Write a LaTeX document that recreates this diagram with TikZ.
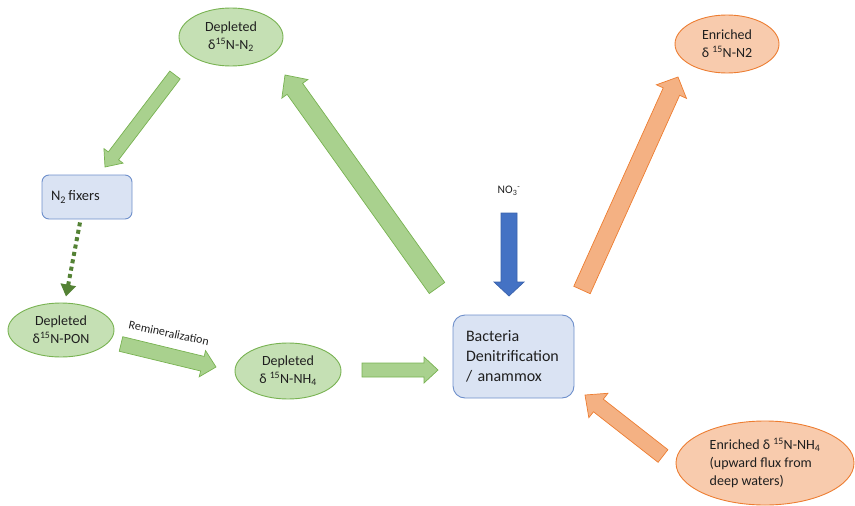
\documentclass[tikz,border=0pt]{standalone}
\usepackage{fontspec}
\setmainfont{Carlito}
\usetikzlibrary{arrows.meta,calc,shapes.geometric}
\definecolor{ncink}{HTML}{1F1F1F}
\definecolor{ncgreen}{HTML}{A9D18E}
\definecolor{ncgreenline}{HTML}{78B251}
\definecolor{ncgreenpale}{HTML}{C5E0B4}
\definecolor{ncgreendark}{HTML}{548235}
\definecolor{ncorange}{HTML}{F4B183}
\definecolor{ncorangeline}{HTML}{ED7D31}
\definecolor{ncorangepale}{HTML}{F8CBAD}
\definecolor{ncblue}{HTML}{4472C4}
\definecolor{ncblueline}{HTML}{3A62AC}
\definecolor{ncbluepale}{HTML}{DAE3F3}
\definecolor{ncboxline}{HTML}{6E8FCB}
\tikzset{
  nc text/.style={font=\fontsize{14}{18}\selectfont, text=ncink},
  nc small/.style={font=\fontsize{11.5}{13}\selectfont, text=ncink},
  nc green/.style={ellipse, draw=ncgreenline, fill=ncgreenpale, line width=0.9pt,
    inner sep=0pt, align=center, nc text},
  nc orange/.style={ellipse, draw=ncorangeline, fill=ncorangepale, line width=0.9pt,
    inner sep=0pt, align=center, nc text},
  nc box/.style={draw=ncboxline, fill=ncbluepale, line width=0.9pt, rounded corners=7pt,
    align=left, inner ysep=0pt, nc text},
  nc green arrow/.style={draw=ncgreenline, fill=ncgreen, line width=0.7pt},
  nc orange arrow/.style={draw=ncorangeline, fill=ncorange, line width=0.7pt},
  nc blue arrow/.style={draw=ncblueline, fill=ncblue, line width=0.7pt},
  nc dotted/.style={draw=ncgreendark, line width=4pt, dash pattern=on 4pt off 3.5pt,
    -{Triangle[length=12pt,width=15pt]}}
}
% block arrow: style, tail, tip, half shaft, half head, head length
\newcommand{\blockarrow}[6]{%
  \coordinate (ba h) at ($(#3)!#6!(#2)$);
  \draw[#1] ($(#2)!#4!90:(#3)$) -- ($(ba h)!#4!-90:(#2)$) -- ($(ba h)!#5!-90:(#2)$) -- (#3)
    -- ($(ba h)!#5!90:(#2)$) -- ($(ba h)!#4!90:(#2)$) -- ($(#2)!#4!-90:(#3)$) -- cycle;
}

\begin{document}
\begin{tikzpicture}[x=1pt, y=-1pt]
  \useasboundingbox (0,0) rectangle (855,506);
  % states
  \node[nc green, minimum width=104pt, minimum height=58pt] (topn2) at (231,37)
    {Depleted\\ δ\textsuperscript{15}N-N\textsubscript{2}};
  \node[nc orange, minimum width=104pt, minimum height=58pt] (enrn2) at (727,44)
    {Enriched\\ δ \textsuperscript{15}N-N2};
  \node[nc green, minimum width=106pt, minimum height=54pt] (pon) at (61,330)
    {Depleted\\ δ\textsuperscript{15}N-PON};
  \node[nc green, minimum width=106pt, minimum height=56pt] (nh4) at (288,371)
    {Depleted\\ δ \textsuperscript{15}N-NH\textsubscript{4}};
  \node[nc orange, minimum width=178pt, minimum height=84pt, align=left] (enrnh4) at (765,463)
    {Enriched δ \textsuperscript{15}N-NH\textsubscript{4}\\ (upward flux from\\ deep waters)};
  % organisms
  \node[nc box, text width=72pt, inner xsep=9pt, minimum height=44pt,
    font=\fontsize{14.5}{18}\selectfont] (fixers) at (87,197)
    {N\textsubscript{2}\,fixers};
  \node[nc box, text width=95pt, inner xsep=13pt, minimum height=83pt, rounded corners=12pt,
    font=\fontsize{16}{20}\selectfont] (bact) at (513.5,356.5)
    {Bacteria\\ Denitrification\\ / anammox};
  \node[nc small] (no3) at (509,191) {NO\textsubscript{3}\textsuperscript{-}};
  \node[nc small, font=\fontsize{12}{14}\selectfont, rotate=-12] (remin) at (169,333) {Remineralization};
  % arrow ends
  \coordinate (up tail) at (437,288);   \coordinate (up tip) at (285,75);
  \coordinate (fix tail) at (175,75);   \coordinate (fix tip) at (105,167);
  \coordinate (rem tail) at (121,344);  \coordinate (rem tip) at (216,367);
  \coordinate (nh tail) at (362,370);   \coordinate (nh tip) at (438,370);
  \coordinate (no tail) at (509,213);   \coordinate (no tip) at (509,296);
  \coordinate (out tail) at (582,290);  \coordinate (out tip) at (678,77);
  \coordinate (deep tail) at (663,456); \coordinate (deep tip) at (585,395);
  \blockarrow{nc green arrow}{up tail}{up tip}{9.5pt}{16pt}{17pt}
  \blockarrow{nc green arrow}{fix tail}{fix tip}{6.5pt}{12pt}{14pt}
  \blockarrow{nc green arrow}{rem tail}{rem tip}{7.5pt}{13.5pt}{14pt}
  \blockarrow{nc green arrow}{nh tail}{nh tip}{7pt}{13pt}{14pt}
  \blockarrow{nc blue arrow}{no tail}{no tip}{8pt}{15pt}{14pt}
  \blockarrow{nc orange arrow}{out tail}{out tip}{9pt}{16.5pt}{16pt}
  \blockarrow{nc orange arrow}{deep tail}{deep tip}{8pt}{15.5pt}{17pt}
  \draw[nc dotted] ($(fixers.south)+(-7,3)$) -- ($(pon.north)+(5,-6)$);
\end{tikzpicture}
\end{document}
